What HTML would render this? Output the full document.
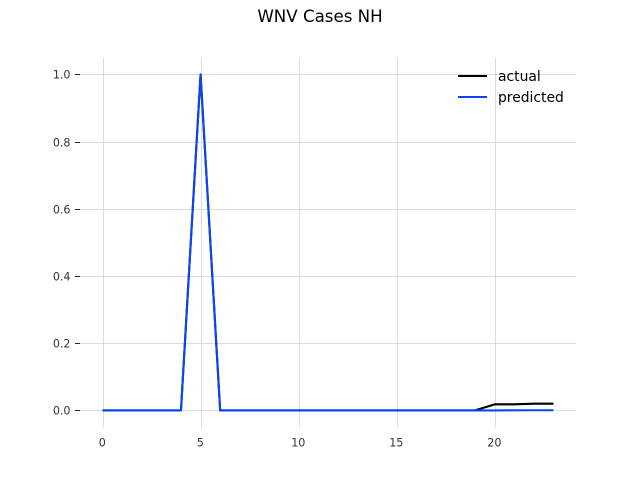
<!DOCTYPE html>
<html>
<head>
<meta charset="utf-8">
<style>
html,body{margin:0;padding:0;background:#fff;}
svg{display:block;font-family:"DejaVu Sans","Liberation Sans",sans-serif;}
</style>
</head>
<body>
<svg id="chart" width="640" height="480" viewBox="0 0 640 480" xmlns="http://www.w3.org/2000/svg">
<text x="320" y="22" font-size="16.67" text-anchor="middle" fill="#000">WNV Cases NH</text>
<g id="grid"></g>
<g id="ticks"></g>
<g id="series"></g>
<g>
<line x1="458" x2="487" y1="76" y2="76" stroke="#000" stroke-width="2"/>
<text x="498" y="81" font-size="13.89" fill="#000">actual</text>
<line x1="458" x2="487" y1="97" y2="97" stroke="#0a45f5" stroke-width="2"/>
<text x="498" y="102" font-size="13.89" fill="#000">predicted</text>
</g>
</svg>
<script>
const timeSteps = [0,1,2,3,4,5,6,7,8,9,10,11,12,13,14,15,16,17,18,19,20,21,22,23];
const actualValues = [0,0,0,0,0,1,0,0,0,0,0,0,0,0,0,0,0,0,0,0,0.018,0.018,0.02,0.02];
const predictedValues = [0,0,0,0,0,1,0,0,0,0,0,0,0,0,0,0,0,0,0,0,0,0.0003,0.0005,0.0005];
const xTickValues = [0,5,10,15,20];
const yTickValues = [0,0.2,0.4,0.6,0.8,1.0];

const NS = 'http://www.w3.org/2000/svg';
const plotLeft = 80, plotRight = 576, plotTop = 57.6, plotBottom = 427.2;
const xMin = -1.15, xMax = 24.15, yMin = -0.05, yMax = 1.05;
function xScale(v){ return plotLeft + (v - xMin) / (xMax - xMin) * (plotRight - plotLeft); }
function yScale(v){ return plotBottom - (v - yMin) / (yMax - yMin) * (plotBottom - plotTop); }
function snap(p){ return Math.round(p) + 0.5; }

const grid = document.getElementById('grid');
const ticks = document.getElementById('ticks');
const seriesGroup = document.getElementById('series');

function make(tag, attrs){
  const el = document.createElementNS(NS, tag);
  for (const k in attrs) el.setAttribute(k, attrs[k]);
  return el;
}

xTickValues.forEach(function(v){
  const px = snap(xScale(v));
  const g = make('line', {x1:px, x2:px, y1:plotTop, y2:plotBottom, stroke:'#dcdcdc', 'stroke-width':1});
  
  
  grid.appendChild(g);
  const t = make('text', {x:xScale(v) - 0.3, y:446.5, 'font-size':11.11, 'text-anchor':'middle', fill:'#333'});
  
  
  t.textContent = String(v);
  ticks.appendChild(t);
});

yTickValues.forEach(function(v){
  const py = snap(yScale(v));
  const g = make('line', {x1:plotLeft, x2:plotRight, y1:py, y2:py, stroke:'#dcdcdc', 'stroke-width':1});
  
  
  grid.appendChild(g);
  const m = make('line', {x1:plotLeft - 5, x2:plotLeft, y1:py, y2:py, stroke:'#262626', 'stroke-width':1});
  
  
  ticks.appendChild(m);
  const t = make('text', {x:70.5, y:py + 4, 'font-size':11.11, 'text-anchor':'end', fill:'#333'});
  
  
  t.textContent = v.toFixed(1);
  ticks.appendChild(t);
});

function linePoints(values){
  return values.map(function(v, i){ return xScale(timeSteps[i]).toFixed(2) + ',' + yScale(v).toFixed(2); }).join(' ');
}

const actualLine = make('polyline', {points:linePoints(actualValues), fill:'none', stroke:'#000', 'stroke-width':2.08, 'stroke-linejoin':'round'});


seriesGroup.appendChild(actualLine);

const predictedLine = make('polyline', {points:linePoints(predictedValues), fill:'none', stroke:'#0a45f5', 'stroke-width':2.08, 'stroke-linejoin':'round'});


seriesGroup.appendChild(predictedLine);
</script>
</body>
</html>
